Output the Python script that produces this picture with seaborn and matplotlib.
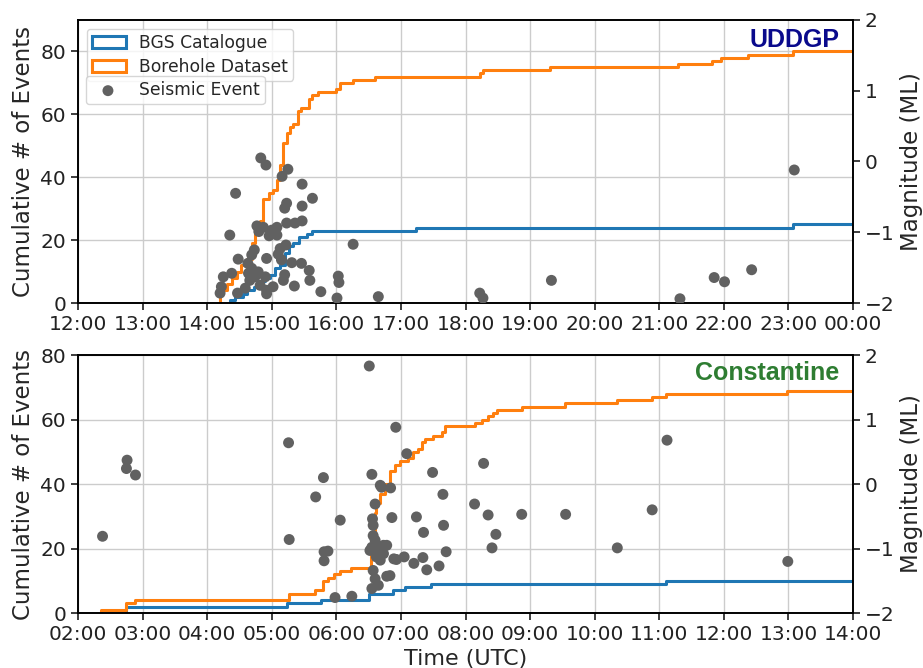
import matplotlib
matplotlib.use("Agg")

import matplotlib.pyplot as plt
import seaborn as sns
from matplotlib.patches import Patch
from matplotlib.ticker import FuncFormatter, MultipleLocator

# Temps en heures décimales (UTC), comptes cumulés, magnitudes ML

# --- UDDGP ---
uddgp_borehole_t = [14.20, 14.20, 14.30, 14.38, 14.46, 14.53, 14.61, 14.69, 14.74, 14.82, 14.87,
                    14.95, 15.02, 15.08, 15.13, 15.18, 15.23, 15.28, 15.33, 15.41, 15.46, 15.57,
                    15.62, 15.72, 16.00, 16.06, 16.26, 16.60, 18.22, 18.27, 19.31, 21.29, 21.81,
                    21.96, 22.38, 23.07, 24.00]
uddgp_borehole_n = [0, 4, 6, 8, 10, 12, 14, 19, 22, 26, 33,
                    35, 36, 39, 44, 51, 54, 56, 57, 61, 62, 65,
                    66, 67, 68, 70, 71, 72, 73, 74, 75, 76, 77,
                    78, 79, 80, 80]
uddgp_bgs_t = [14.35, 14.35, 14.43, 14.55, 14.62, 14.73, 14.80, 14.90, 14.97, 15.05, 15.12,
               15.20, 15.27, 15.33, 15.42, 15.55, 15.62, 17.24, 23.07, 24.00]
uddgp_bgs_n = [0, 1, 2, 3, 4, 5, 7, 8, 9, 11, 12,
               16, 18, 19, 21, 22, 23, 24, 25, 25]
uddgp_event_t = [14.83, 14.91, 14.44, 15.25, 15.16, 15.47, 15.63, 15.23, 15.20, 15.47, 14.77,
                 14.87, 15.00, 15.08, 15.23, 15.36, 15.47, 14.35, 14.96, 15.08, 14.80, 14.73,
                 15.22, 14.92, 15.10, 14.48, 14.63, 14.69, 15.15, 15.31, 15.46, 15.58, 15.59,
                 14.25, 14.38, 14.64, 14.74, 14.90, 15.20, 15.18, 14.22, 14.20, 14.47, 14.59,
                 14.82, 14.92, 15.02, 14.92, 15.35, 15.76, 16.03, 16.04, 16.01, 16.26, 14.66,
                 14.79, 14.69, 15.13, 16.65, 18.22, 18.27, 19.33, 21.32, 21.85, 22.01, 22.43,
                 23.09]
uddgp_event_ml = [0.05, -0.05, -0.45, -0.11, -0.21, -0.32, -0.52, -0.59, -0.66, -0.63, -0.91,
                  -0.93, -0.97, -0.93, -0.87, -0.87, -0.84, -1.04, -1.05, -1.04, -0.99, -1.25,
                  -1.18, -1.37, -1.31, -1.38, -1.44, -1.51, -1.39, -1.43, -1.44, -1.54, -1.68,
                  -1.63, -1.58, -1.58, -1.63, -1.63, -1.60, -1.68, -1.77, -1.86, -1.86, -1.79,
                  -1.75, -1.82, -1.77, -1.87, -1.76, -1.84, -1.62, -1.71, -1.93, -1.17, -1.68,
                  -1.56, -1.32, -1.23, -1.91, -1.86, -1.93, -1.68, -1.94, -1.64, -1.70, -1.53,
                  -0.12]

# --- Constantine ---
const_borehole_t = [2.35, 2.35, 2.75, 2.89, 5.26, 5.67, 5.80, 5.87, 5.97, 6.06, 6.23,
                    6.53, 6.55, 6.56, 6.60, 6.62, 6.68, 6.75, 6.83, 6.91, 6.99, 7.11,
                    7.19, 7.27, 7.32, 7.37, 7.50, 7.63, 7.68, 8.15, 8.25, 8.35, 8.43,
                    8.48, 8.87, 9.54, 10.34, 10.88, 11.11, 12.97, 14.00]
const_borehole_n = [0, 1, 3, 4, 6, 7, 10, 11, 12, 13, 14,
                    18, 22, 25, 31, 34, 37, 40, 44, 46, 47, 48,
                    50, 51, 53, 54, 55, 56, 58, 59, 60, 61, 62,
                    63, 64, 65, 66, 67, 68, 69, 69]
const_bgs_t = [2.75, 2.75, 5.23, 5.77, 6.51, 6.88, 7.06, 7.47, 11.11, 14.00]
const_bgs_n = [0, 2, 3, 4, 6, 7, 8, 9, 10, 10]
const_event_t = [2.38, 2.76, 2.75, 2.89, 5.26, 5.27, 5.68, 5.80, 6.06, 5.81, 5.87,
                 5.81, 5.98, 6.24, 6.51, 6.55, 6.92, 7.09, 6.68, 6.70, 6.84, 6.60,
                 6.56, 6.57, 6.86, 7.24, 7.49, 7.65, 7.66, 7.35, 7.70, 8.14, 8.28,
                 8.35, 8.47, 8.41, 8.87, 9.55, 10.35, 7.05, 6.89, 6.93, 7.20, 7.34,
                 7.40, 7.59, 6.78, 6.83, 6.57, 6.60, 6.62, 6.55, 6.65, 6.73, 6.78,
                 6.62, 6.68, 6.57, 6.60, 6.65, 6.55, 6.73, 11.12, 10.89, 12.99, 6.52]
const_event_ml = [-0.81, 0.37, 0.24, 0.14, 0.64, -0.86, -0.20, 0.10, -0.56, -1.05, -1.04,
                  -1.19, -1.76, -1.74, 1.83, 0.15, 0.88, 0.47, -0.02, -0.05, -0.06, -0.31,
                  -0.54, -0.64, -0.52, -0.51, 0.18, -0.16, -0.64, -0.75, -1.05, -0.31, 0.32,
                  -0.48, -0.78, -0.99, -0.47, -0.47, -0.99, -1.13, -1.16, -1.17, -1.23, -1.14,
                  -1.33, -1.27, -1.43, -1.42, -0.80, -0.87, -0.95, -0.98, -1.03, -0.95, -0.95,
                  -1.13, -1.18, -1.34, -1.47, -1.57, -1.62, -1.08, 0.68, -0.40, -1.20, -1.03]

BLUE = "#1f77b4"
ORANGE = "#ff7f0e"
GREY = "#616161"


def hour_label(value, pos):
    return f"{int(round(value)) % 24:02d}:00"


def draw_panel(ax, bgs_t, bgs_n, bh_t, bh_n, ev_t, ev_ml, xlim, ylim, site, site_color, with_legend):
    sns.lineplot(x=bgs_t, y=bgs_n, ax=ax, color=BLUE, linewidth=2.2, drawstyle="steps-post",
                 estimator=None, sort=False)
    sns.lineplot(x=bh_t, y=bh_n, ax=ax, color=ORANGE, linewidth=2.2, drawstyle="steps-post",
                 estimator=None, sort=False)
    ax.set_xlim(*xlim)
    ax.set_ylim(*ylim)
    ax.xaxis.set_major_locator(MultipleLocator(1))
    ax.xaxis.set_major_formatter(FuncFormatter(hour_label))
    ax.yaxis.set_major_locator(MultipleLocator(20))
    ax.grid(True, color="#cccccc", linewidth=1)
    ax.set_axisbelow(True)
    ax.set_ylabel("Cumulative # of Events", fontsize=16.5)
    ax.tick_params(labelsize=14.5, length=5, labelcolor="#222222")

    ax2 = ax.twinx()
    sns.scatterplot(x=ev_t, y=ev_ml, ax=ax2, color=GREY, s=62, edgecolor="none",
                    label="Seismic Event", legend=False, zorder=3)
    ax2.set_ylim(-2, 2)
    ax2.yaxis.set_major_locator(MultipleLocator(1))
    ax2.set_ylabel("Magnitude (ML)", fontsize=16.5)
    ax2.tick_params(labelsize=14.5, length=5, labelcolor="#222222")
    ax2.grid(False)

    for spine in list(ax.spines.values()) + list(ax2.spines.values()):
        spine.set_color("black")
        spine.set_linewidth(1.2)

    ax2.text(0.982, 0.93, site, transform=ax2.transAxes, ha="right", va="center",
             fontsize=18, fontweight="bold", color=site_color, family="Liberation Sans")

    if with_legend:
        handles = [Patch(facecolor="none", edgecolor=BLUE, linewidth=2.2, label="BGS Catalogue"),
                   Patch(facecolor="none", edgecolor=ORANGE, linewidth=2.2, label="Borehole Dataset")]
        ax.legend(handles=handles, loc="upper left", fontsize=12.3, framealpha=0.8,
                  labelspacing=0.35, borderpad=0.3)
        ax2.legend(loc="upper left", bbox_to_anchor=(0.010, 0.802), borderaxespad=0,
                   fontsize=12.3, framealpha=0.8, borderpad=0.3)
    return ax2


def main():
    sns.set_theme(style="ticks")
    plt.rcParams["font.family"] = ["DejaVu Sans"]

    fig = plt.figure(figsize=(9.23, 6.68), dpi=100)
    ax_top = fig.add_axes([0.0845, 0.5464, 0.8397, 0.4237])
    ax_bot = fig.add_axes([0.0845, 0.0823, 0.8397, 0.3862])

    draw_panel(ax_top, uddgp_bgs_t, uddgp_bgs_n, uddgp_borehole_t, uddgp_borehole_n,
               uddgp_event_t, uddgp_event_ml, (12, 24), (0, 90), "UDDGP", "#0a0a8c", True)
    draw_panel(ax_bot, const_bgs_t, const_bgs_n, const_borehole_t, const_borehole_n,
               const_event_t, const_event_ml, (2, 14), (0, 80), "Constantine", "#2e7d32", False)
    ax_bot.set_xlabel("Time (UTC)", fontsize=16)

    fig.savefig("out.png", dpi=100)
    plt.close(fig)


if __name__ == "__main__":
    main()
